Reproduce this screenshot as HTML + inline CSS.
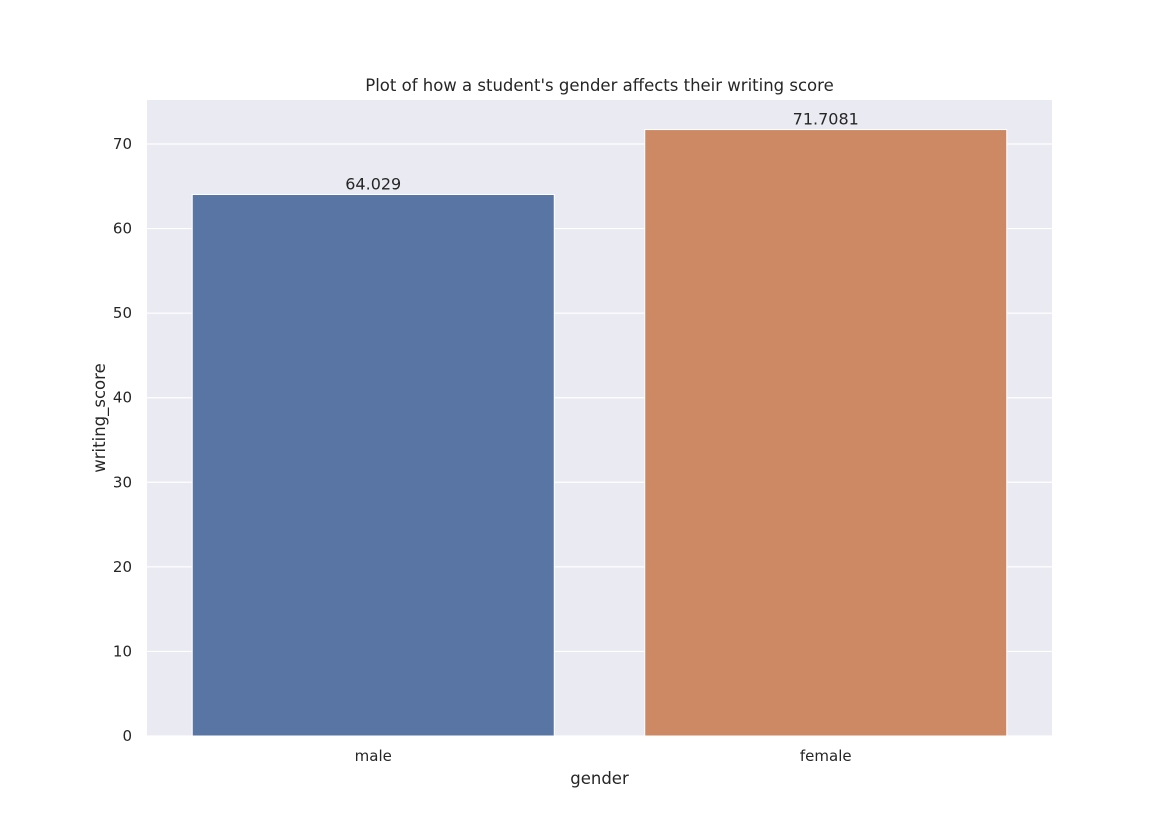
<!DOCTYPE html>
<html><head><meta charset="utf-8"><style>
html,body{margin:0;padding:0;background:#fff;}
svg{display:block;font-family:"DejaVu Sans","Liberation Sans",sans-serif;}
</style></head><body>
<svg id="chart" width="1170" height="827"></svg>
<script>
const categories = ["male", "female"];
const values = [64.029, 71.7081];
const valueLabels = ["64.029", "71.7081"];
const yTicks = [0, 10, 20, 30, 40, 50, 60, 70];
const colors = ["#5975a4", "#cc8963"];

const NS = "http://www.w3.org/2000/svg";
const svg = document.getElementById("chart");
const L = 147, R = 1052, T = 100, B = 736;
const yMax = (B - T) / (592 / 70);
function y(v){ return B - v / yMax * (B - T); }
const band = (R - L) / categories.length;
function xc(i){ return L + band * (i + 0.5); }
function mk(tag, attrs, text){
  const e = document.createElementNS(NS, tag);
  for (const k in attrs) e.setAttribute(k, attrs[k]);
  if (text !== undefined) e.textContent = text;
  svg.appendChild(e);
  return e;
}
let e = mk("rect", {x:L, y:T, width:R-L, height:B-T, fill:"#eaeaf2"});


yTicks.forEach(t => {
  const g = mk("line", {x1:L, x2:R, y1:y(t), y2:y(t), stroke:"#fff", "stroke-width":1.2});
  
  
  const lb = mk("text", {x:L-15, y:y(t)+5, "text-anchor":"end", "font-size":15, fill:"#262626"}, String(t));
  
  
});
categories.forEach((c, i) => {
  const w = band * 0.8;
  const b = mk("rect", {x:xc(i)-w/2, y:y(values[i]), width:w, height:B-y(values[i]), fill:colors[i], stroke:"#fff", "stroke-width":1});
  
  
  const v = mk("text", {x:xc(i), y:y(values[i])-5, "text-anchor":"middle", "font-size":16, fill:"#262626"}, valueLabels[i]);
  
  
  const xl = mk("text", {x:xc(i), y:B+25, "text-anchor":"middle", "font-size":15, fill:"#262626"}, c);
  
  
});
e = mk("text", {x:(L+R)/2, y:T-9, "text-anchor":"middle", "font-size":16.5, fill:"#262626"}, "Plot of how a student's gender affects their writing score");


e = mk("text", {x:(L+R)/2, y:784, "text-anchor":"middle", "font-size":16.5, fill:"#262626"}, "gender");


e = mk("text", {x:105, y:(T+B)/2, "text-anchor":"middle", "font-size":16.5, fill:"#262626", transform:"rotate(-90 105 " + (T+B)/2 + ")"}, "writing_score");


</script>
</body></html>
